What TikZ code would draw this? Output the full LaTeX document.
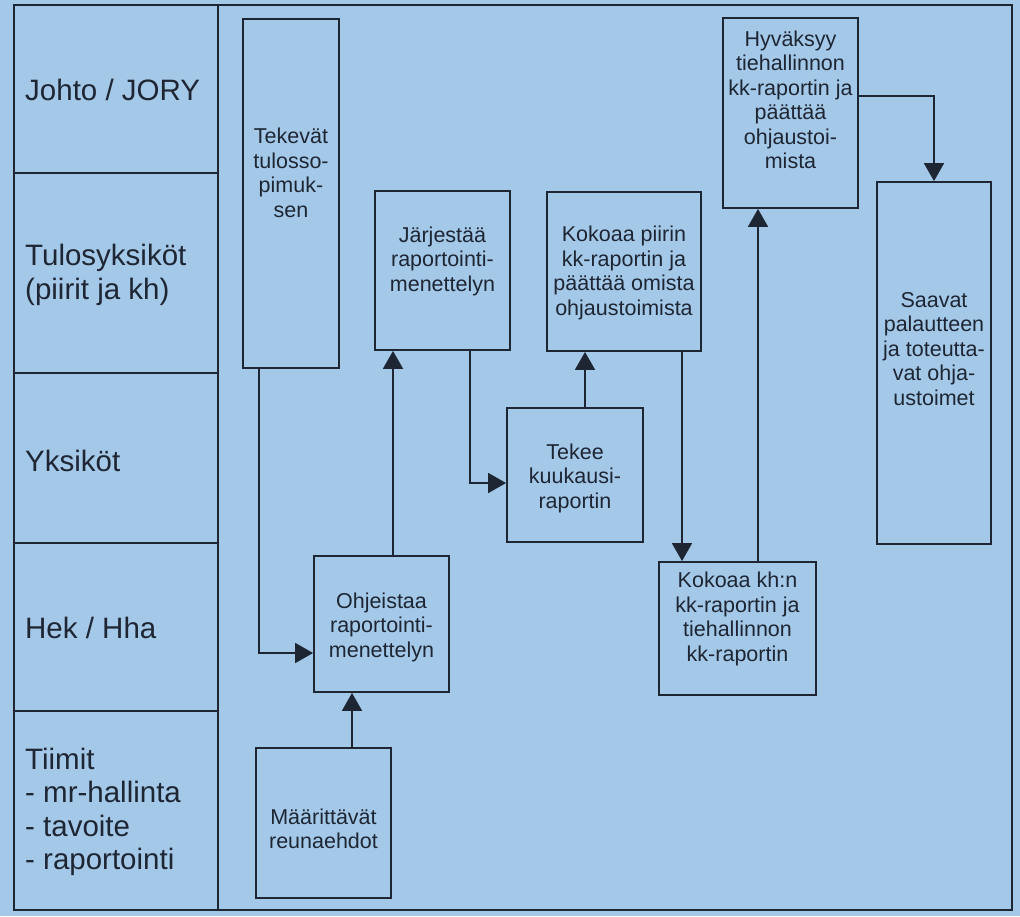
\documentclass[tikz,border=0pt]{standalone}
\usepackage{fontspec}
\setmainfont{Liberation Sans}
\usetikzlibrary{arrows.meta,calc}
\definecolor{bg}{HTML}{A4C8E8}
\definecolor{ink}{HTML}{1E2633}
\begin{document}
\begin{tikzpicture}[x=1pt,y=-1pt,
  box/.style={draw=ink,line width=1.8pt,rectangle,inner sep=0pt},
  boxtext/.style={text=ink,align=center,font=\fontsize{21.5}{24.5}\selectfont,inner sep=0pt},
  lanetext/.style={text=ink,align=left,anchor=west,font=\fontsize{29.5}{33.5}\selectfont,inner sep=0pt},
  arr/.style={draw=ink,line width=1.8pt,-{Triangle[length=18pt,width=20pt]}},
  frame/.style={draw=ink,line width=1.5pt}]
\fill[bg] (0,0) rectangle (1020,916);
\useasboundingbox (0,0) rectangle (1020,916);
% frame and lanes
\draw[frame] (14,5) rectangle (1012,910);
\draw[frame] (218,5) -- (218,910);
\foreach \yy in {173,373,543,711} \draw[frame] (14,\yy) -- (218,\yy);
\node[lanetext] (l1) at (25,90) {Johto / JORY};
\node[lanetext] (l2) at (25,275) {Tulosyksiköt\\(piirit ja kh)};
\node[lanetext] (l3) at (25,461) {Yksiköt};
\node[lanetext] (l4) at (25,628) {Hek / Hha};
\node[lanetext] (l5) at (25,812) {Tiimit\\- mr-hallinta\\- tavoite\\- raportointi};
% boxes
\node[box,minimum width=96pt,minimum height=349pt] (tek) at (291,193.5) {};
\node[boxtext] (tekt) at (291,173) {Tekevät\\tulosso-\\pimuk-\\sen};
\node[box,minimum width=135pt,minimum height=159pt] (jar) at (442.5,270.5) {};
\node[boxtext] (jart) at (442.5,261) {Järjestää\\raportointi-\\menettelyn};
\node[box,minimum width=154pt,minimum height=159pt] (kpi) at (624,271.5) {};
\node[boxtext] (kpit) at (624,273) {Kokoaa piirin\\kk-raportin ja\\päättää omista\\ohjaustoimista};
\node[box,minimum width=135pt,minimum height=190pt] (hyv) at (790.5,113) {};
\node[boxtext] (hyvt) at (790.5,100) {Hyväksyy\\tiehallinnon\\kk-raportin ja\\päättää\\ohjaustoi-\\mista};
\node[box,minimum width=114pt,minimum height=362pt] (saa) at (934,363) {};
\node[boxtext] (saat) at (934,349) {Saavat\\palautteen\\ja toteutta-\\vat ohja-\\ustoimet};
\node[box,minimum width=136pt,minimum height=134pt] (tekee) at (575,475) {};
\node[boxtext] (tekeet) at (575,478) {Tekee\\kuukausi-\\raportin};
\node[box,minimum width=135pt,minimum height=136pt] (ohj) at (381.5,624) {};
\node[boxtext] (ohjt) at (381.5,627) {Ohjeistaa\\raportointi-\\menettelyn};
\node[box,minimum width=157pt,minimum height=133pt] (kkh) at (737.5,628.5) {};
\node[boxtext] (kkht) at (737.5,619) {Kokoaa kh:n\\kk-raportin ja\\tiehallinnon\\kk-raportin};
\node[box,minimum width=135pt,minimum height=150pt] (maa) at (323.5,823) {};
\node[boxtext] (maat) at (323.5,829) {Määrittävät\\reunaehdot};
% connectors
\draw[arr] ([xshift=17pt]tek.south west) |- ([yshift=-29pt]ohj.west);
\draw[arr] ([xshift=11.5pt]ohj.north) -- ([xshift=11.5pt]ohj.north |- jar.south);
\draw[arr] ([xshift=27.5pt]jar.south) |- ([yshift=-8pt]tekee.west);
\draw[arr] ([xshift=10pt]tekee.north) -- ([xshift=10pt]tekee.north |- kpi.south);
\draw[arr] ([xshift=58pt]kpi.south) -- ([xshift=58pt]kpi.south |- kkh.north);
\draw[arr] ([xshift=20.5pt]kkh.north) -- ([xshift=20.5pt]kkh.north |- hyv.south);
\draw[arr] ([yshift=17pt]hyv.east) -| (saa.north);
\draw[arr] ([xshift=28.5pt]maa.north) -- ([xshift=28.5pt]maa.north |- ohj.south);
\end{tikzpicture}
\end{document}
